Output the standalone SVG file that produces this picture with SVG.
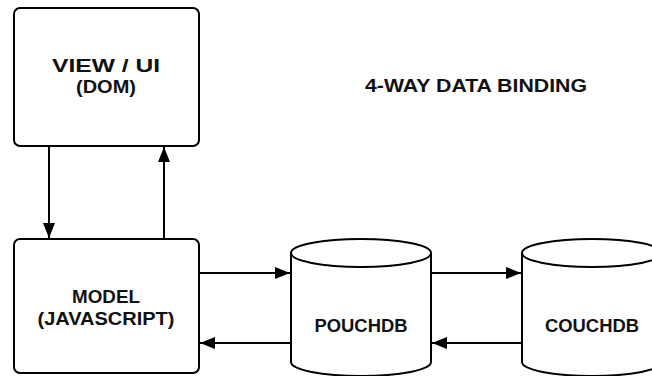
<svg xmlns="http://www.w3.org/2000/svg" width="652" height="376" viewBox="0 0 652 376">
<defs>
<style>
.box{fill:#fff;stroke:#000;stroke-width:2}
.ln{fill:none;stroke:#000;stroke-width:2}
.t{font-family:"Liberation Sans",Arial,sans-serif;font-weight:bold;font-size:18px;fill:#111;text-anchor:middle}
</style>
<marker id="ah" viewBox="0 0 15 12" refX="15" refY="6" markerWidth="15" markerHeight="12" markerUnits="userSpaceOnUse" orient="auto">
<path d="M0,0 L15,6 L0,12 Z" fill="#000"/>
</marker>
</defs>
<rect width="652" height="376" fill="#fff"/>
<g id="connectors">
<line class="ln" x1="49" y1="146" x2="49" y2="238" marker-end="url(#ah)"/>
<line class="ln" x1="164" y1="239" x2="164" y2="147" marker-end="url(#ah)"/>
<line class="ln" x1="199" y1="273" x2="290" y2="273" marker-end="url(#ah)"/>
<line class="ln" x1="291" y1="343" x2="200" y2="343" marker-end="url(#ah)"/>
<line class="ln" x1="431" y1="273" x2="521" y2="273" marker-end="url(#ah)"/>
<line class="ln" x1="522" y1="343" x2="432" y2="343" marker-end="url(#ah)"/>
</g>
<g id="view">
<rect class="box" x="14" y="8" width="185" height="138" rx="6"/>
<text class="t" x="106" y="72" textLength="108" lengthAdjust="spacingAndGlyphs">VIEW / UI</text>
<text class="t" x="106" y="93" textLength="60" lengthAdjust="spacingAndGlyphs">(DOM)</text>
</g>
<g id="model">
<rect class="box" x="14" y="239" width="185" height="134" rx="6"/>
<text class="t" x="106" y="303" textLength="68" lengthAdjust="spacingAndGlyphs">MODEL</text>
<text class="t" x="106" y="325" textLength="137" lengthAdjust="spacingAndGlyphs">(JAVASCRIPT)</text>
</g>
<g id="pouchdb">
<path class="box" d="M291,253 L291,362 A70,14 0 0 0 431,362 L431,253"/>
<ellipse class="box" cx="361" cy="253" rx="70" ry="14"/>
<text class="t" x="361" y="332" textLength="93" lengthAdjust="spacingAndGlyphs">POUCHDB</text>
</g>
<g id="couchdb">
<path class="box" d="M522,253 L522,362 A70,14 0 0 0 662,362 L662,253"/>
<ellipse class="box" cx="592" cy="253" rx="70" ry="14"/>
<text class="t" x="592" y="332" textLength="94" lengthAdjust="spacingAndGlyphs">COUCHDB</text>
</g>
<g id="title">
<text class="t" x="476" y="92" textLength="222" lengthAdjust="spacingAndGlyphs">4-WAY DATA BINDING</text>
</g>
</svg>
